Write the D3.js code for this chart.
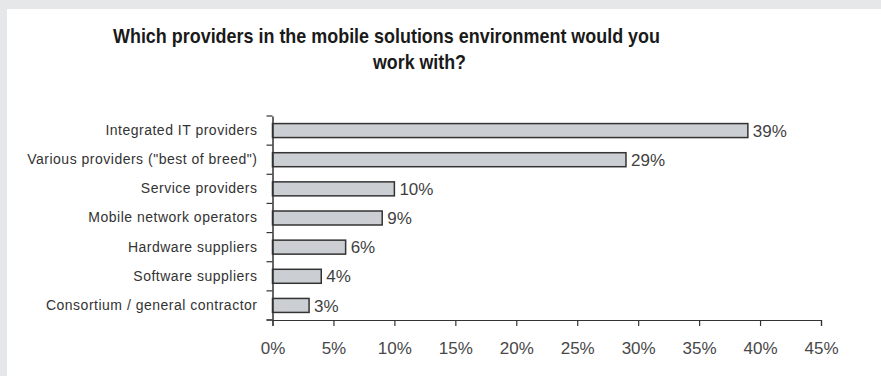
<!DOCTYPE html>
<html><head><meta charset="utf-8">
<script src="https://cdn.jsdelivr.net/npm/d3@7"></script>
<style>
html,body{margin:0;padding:0;background:#e6e7e9;}
svg{display:block;}
</style></head>
<body>
<svg id="chart" width="881" height="376"></svg>
<script>
const titleLines = ["Which providers in the mobile solutions environment would you", "work with?"];
const categories = ["Integrated IT providers", "Various providers (\"best of breed\")", "Service providers", "Mobile network operators", "Hardware suppliers", "Software suppliers", "Consortium / general contractor"];
const values = [39, 29, 10, 9, 6, 4, 3];
const xTicks = [0, 5, 10, 15, 20, 25, 30, 35, 40, 45];

const svg = d3.select("#chart");
svg.append("rect").attr("x", 0).attr("y", 0).attr("width", 881).attr("height", 376).attr("fill", "#e6e7e9");
svg.append("rect").attr("x", 7).attr("y", 9).attr("width", 874).attr("height", 367).attr("fill", "#ffffff");

// Title
svg.append("text").attr("x", 113).attr("y", 43)
  .attr("font-family", "Liberation Sans, Arial, sans-serif").attr("font-size", 21).attr("font-weight", "bold")
  .attr("fill", "#1a1a1a").attr("textLength", 547).attr("lengthAdjust", "spacingAndGlyphs")
  .text(titleLines[0]);
svg.append("text").attr("x", 373).attr("y", 69)
  .attr("font-family", "Liberation Sans, Arial, sans-serif").attr("font-size", 21).attr("font-weight", "bold")
  .attr("fill", "#1a1a1a").attr("textLength", 93).attr("lengthAdjust", "spacingAndGlyphs")
  .text(titleLines[1]);

const x = d3.scaleLinear().domain([0, 45]).range([272.5, 821]);
const y = d3.scaleBand().domain(categories).range([116, 320]).paddingInner(0.52).paddingOuter(0.26);

const g = svg.append("g");

// Bars
g.selectAll("rect.bar").data(categories).enter().append("rect")
  .attr("class", "bar")
  .attr("x", x(0))
  .attr("y", d => y(d))
  .attr("width", (d, i) => x(values[i]) - x(0))
  .attr("height", y.bandwidth())
  .attr("fill", "#cbced2")
  .attr("stroke", "#333333")
  .attr("stroke-width", 1.5);

// Value labels
g.selectAll("text.val").data(categories).enter().append("text")
  .attr("class", "val")
  .attr("x", (d, i) => x(values[i]) + 5)
  .attr("y", d => y(d) + y.bandwidth() / 2)
  .attr("dy", "0.36em")
  .attr("font-family", "Liberation Sans, Arial, sans-serif").attr("font-size", 17)
  .attr("fill", "#3f3f3f")
  .text((d, i) => values[i] + "%");

// X axis
const xAxis = d3.axisBottom(x).tickValues(xTicks).tickFormat(d => d + "%").tickSizeOuter(0).tickSize(6).tickPadding(16);
const xg = svg.append("g").attr("transform", "translate(0,320)").call(xAxis);
xg.select(".domain").attr("stroke", "#333").attr("stroke-width", 1.2);
xg.selectAll(".tick line").attr("stroke", "#333").attr("stroke-width", 1.2);
xg.selectAll(".tick text").attr("font-family", "Liberation Sans, Arial, sans-serif").attr("font-size", 17).attr("fill", "#484848");
// small extension of x axis to left of y axis
svg.append("line").attr("x1", x(0) - 6).attr("x2", x(0)).attr("y1", 320).attr("y2", 320).attr("stroke", "#333").attr("stroke-width", 1.2);

// Y axis
const yAxis = d3.axisLeft(y).tickSize(0).tickPadding(15).tickSizeOuter(0);
const yg = svg.append("g").attr("transform", `translate(${x(0)},0)`).call(yAxis);
yg.select(".domain").attr("stroke", "#333").attr("stroke-width", 1.5);
yg.selectAll(".tick text").attr("font-family", "Liberation Sans, Arial, sans-serif").attr("font-size", 14)
  .attr("fill", "#333").attr("letter-spacing", "0.5px");
// boundary ticks
const step = y.step();
const bounds = d3.range(categories.length + 1).map(i => y.range()[0] + i * step);
svg.append("g").selectAll("line").data(bounds).enter().append("line")
  .attr("x1", x(0) - 6).attr("x2", x(0)).attr("y1", d => d).attr("y2", d => d)
  .attr("stroke", "#333").attr("stroke-width", 1.2);
</script>
</body></html>
